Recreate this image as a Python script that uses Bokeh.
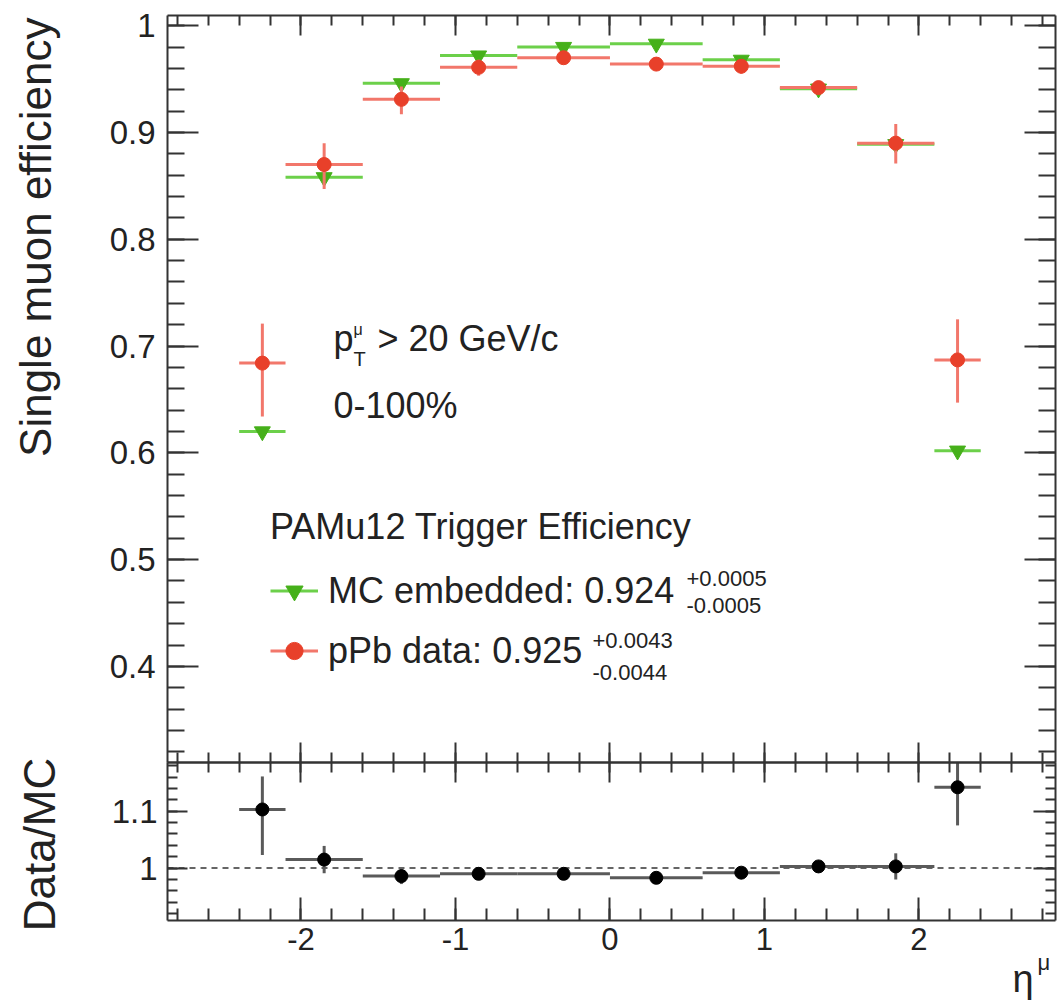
import numpy as np
from math import pi
from bokeh.plotting import figure
from bokeh.models import (Range1d, LinearAxis, FixedTicker, Label, Legend,
                          LegendItem, ColumnDataSource)
from bokeh.embed import file_html
from bokeh.resources import INLINE

# ---------------- data ----------------
eta_edges = [-2.4, -2.1, -1.6, -1.1, -0.6, 0.0, 0.6, 1.1, 1.6, 2.1, 2.4]
eta_centers = [-2.25, -1.85, -1.35, -0.85, -0.3, 0.3, 0.85, 1.35, 1.85, 2.25]

mc_eff = [0.620, 0.858, 0.946, 0.972, 0.980, 0.983, 0.968, 0.941, 0.889, 0.602]
mc_err = [0.003, 0.005, 0.003, 0.002, 0.002, 0.002, 0.002, 0.002, 0.003, 0.004]

data_eff = [0.684, 0.870, 0.931, 0.961, 0.970, 0.964, 0.962, 0.942, 0.890, 0.687]
data_err_lo = [0.050, 0.023, 0.014, 0.008, 0.006, 0.006, 0.007, 0.006, 0.019, 0.040]
data_err_hi = [0.037, 0.020, 0.012, 0.007, 0.005, 0.005, 0.006, 0.005, 0.018, 0.038]

ratio = [1.103, 1.015, 0.986, 0.990, 0.990, 0.983, 0.992, 1.003, 1.003, 1.142]
ratio_err_lo = [0.080, 0.024, 0.014, 0.006, 0.005, 0.005, 0.006, 0.006, 0.023, 0.067]
ratio_err_hi = [0.058, 0.024, 0.012, 0.006, 0.005, 0.005, 0.006, 0.006, 0.023, 0.043]
ratio_ref = 1.0

mc_label = "MC embedded: 0.924"
mc_up, mc_dn = "+0.0005", "-0.0005"
data_label = "pPb data: 0.925"
data_up, data_dn = "+0.0043", "-0.0044"
legend_title = "PAMu12 Trigger Efficiency"

x_major = [-2, -1, 0, 1, 2]
x_tick_labels = ["-2", "-1", "0", "1", "2"]
y1_major = [0.4, 0.5, 0.6, 0.7, 0.8, 0.9, 1.0]
y1_tick_labels = ["0.4", "0.5", "0.6", "0.7", "0.8", "0.9", "1"]
y2_major = [1.0, 1.1]
y2_tick_labels = ["1", "1.1"]

x_minor = [round(v, 2) for v in np.arange(-2.8, 2.81, 0.2)]
y1_minor = [round(v, 2) for v in np.arange(0.32, 1.001, 0.02)]
y2_minor = [round(v, 2) for v in np.arange(0.92, 1.181, 0.02)]

# visible axis limits
X0, X1 = -2.864, 2.884
Y0, Y1 = 0.31, 1.01
R0, R1 = 0.908, 1.1855

# ---------------- layout (canvas pixels) ----------------
CW, CH = 1057, 1002
FL, FR = 167, 1055          # frame left / right
T_TOP, T_BOT = 14.5, 762    # efficiency panel
R_TOP, R_BOT = 762, 920     # ratio panel

sx = (FR - FL) / (X1 - X0)
XS, XE = X0 - FL / sx, X1 + (CW - FR) / sx
sy = (T_BOT - T_TOP) / (Y1 - Y0)
YS_TOP, YS_BOT = Y1 + T_TOP / sy, Y0 - (CH - T_BOT) / sy
sr = (R_BOT - R_TOP) / (R1 - R0)
RS_TOP, RS_BOT = R1 + R_TOP / sr, R0 - (CH - R_BOT) / sr


def px2x(px):
    return XS + px / sx


def py2y(py):
    return YS_TOP - py / sy


# ---------------- style ----------------
FONT = "Liberation Sans"
TXT = "#222222"
AX = "#333333"
RED_MARK = "#e8402a"
RED_BAR = "#f2776b"
GREEN_MARK = "#46b01a"
GREEN_BAR = "#6cd04a"
RATIO_BAR = "#5a5a5a"

p = figure(width=CW, height=CH, x_range=Range1d(XS, XE), y_range=Range1d(YS_BOT, YS_TOP),
           output_backend="svg", toolbar_location=None, tools="",
           x_axis_location=None, y_axis_location=None,
           min_border=0, min_border_left=0, min_border_right=0,
           min_border_top=0, min_border_bottom=0,
           background_fill_color="white", border_fill_color="white")
p.extra_y_ranges = {"ratio": Range1d(RS_BOT, RS_TOP)}
p.grid.visible = False
p.outline_line_color = None

xt = FixedTicker(ticks=x_major, minor_ticks=x_minor)
yt1 = FixedTicker(ticks=y1_major, minor_ticks=y1_minor)
yt2 = FixedTicker(ticks=y2_major, minor_ticks=y2_minor)


def add_axis(side, ticker, loc, bounds, major_in, minor_in, range_name="default",
             label_size=None, standoff=8, labels=None):
    ax = LinearAxis(ticker=ticker, fixed_location=loc, bounds=bounds, y_range_name=range_name)
    ax.major_tick_in = major_in
    ax.major_tick_out = 0
    ax.minor_tick_in = minor_in
    ax.minor_tick_out = 0
    ax.axis_line_color = AX
    ax.axis_line_width = 2
    ax.major_tick_line_color = AX
    ax.major_tick_line_width = 2
    ax.minor_tick_line_color = AX
    ax.minor_tick_line_width = 2
    if label_size is None:
        ax.major_label_text_color = None
        ax.major_label_text_alpha = 0
    else:
        ax.major_label_text_font_size = label_size
        ax.major_label_text_font = FONT
        ax.major_label_text_color = TXT
        ax.major_label_standoff = standoff
        if labels is not None:
            ax.major_label_overrides = labels
    p.add_layout(ax, side)
    return ax


# efficiency panel frame
add_axis("left", yt1, X0, (Y0, Y1), 31, 17, label_size="33px", standoff=12,
         labels={v: s for v, s in zip(y1_major, y1_tick_labels)})
add_axis("right", yt1, X1, (Y0, Y1), 31, 17)
add_axis("above", xt, Y1, (X0, X1), 20, 10)
add_axis("below", xt, Y0, (X0, X1), 20, 10)
# ratio panel frame
add_axis("left", yt2, X0, (R0, R1), 20, 10, range_name="ratio", label_size="33px", standoff=10,
         labels={v: s for v, s in zip(y2_major, y2_tick_labels)})
add_axis("right", yt2, X1, (R0, R1), 22, 10, range_name="ratio")
add_axis("above", xt, R1, (X0, X1), 20, 10, range_name="ratio")
add_axis("below", xt, R0, (X0, X1), 23, 12, range_name="ratio", label_size="31px", standoff=7,
         labels={v: s for v, s in zip(x_major, x_tick_labels)})

# ---------------- sources ----------------
src_mc = ColumnDataSource(dict(
    xc=eta_centers, y=mc_eff, xlo=eta_edges[:-1], xhi=eta_edges[1:],
    ylo=[v - e for v, e in zip(mc_eff, mc_err)],
    yhi=[v + e for v, e in zip(mc_eff, mc_err)]))
src_data = ColumnDataSource(dict(
    xc=eta_centers, y=data_eff, xlo=eta_edges[:-1], xhi=eta_edges[1:],
    ylo=[v - e for v, e in zip(data_eff, data_err_lo)],
    yhi=[v + e for v, e in zip(data_eff, data_err_hi)]))
src_ratio = ColumnDataSource(dict(
    xc=eta_centers, y=ratio, xlo=eta_edges[:-1], xhi=eta_edges[1:],
    ylo=[v - e for v, e in zip(ratio, ratio_err_lo)],
    yhi=[v + e for v, e in zip(ratio, ratio_err_hi)]))

# ---------------- efficiency marks ----------------
mc_h = p.segment(x0="xlo", y0="y", x1="xhi", y1="y", source=src_mc, line_color=GREEN_BAR, line_width=3)
p.segment(x0="xc", y0="ylo", x1="xc", y1="yhi", source=src_mc, line_color=GREEN_BAR, line_width=3)
mc_pt = p.scatter("xc", "y", source=src_mc, marker="inverted_triangle", size=16,
                  fill_color=GREEN_MARK, line_color=GREEN_MARK)
d_h = p.segment(x0="xlo", y0="y", x1="xhi", y1="y", source=src_data, line_color=RED_BAR, line_width=3)
p.segment(x0="xc", y0="ylo", x1="xc", y1="yhi", source=src_data, line_color=RED_BAR, line_width=3)
d_pt = p.scatter("xc", "y", source=src_data, marker="circle", size=14,
                 fill_color=RED_MARK, line_color=RED_MARK)

# ---------------- ratio marks ----------------
p.segment(x0=[X0], y0=[ratio_ref], x1=[X1], y1=[ratio_ref], y_range_name="ratio",
          line_color=AX, line_width=1.5, line_dash="6 5")
p.segment(x0="xlo", y0="y", x1="xhi", y1="y", source=src_ratio, y_range_name="ratio",
          line_color=RATIO_BAR, line_width=3)
p.segment(x0="xc", y0="ylo", x1="xc", y1="yhi", source=src_ratio, y_range_name="ratio",
          line_color=RATIO_BAR, line_width=3)
p.scatter("xc", "y", source=src_ratio, y_range_name="ratio", marker="circle", size=13,
          fill_color="black", line_color="black")

# ---------------- legend ----------------
legend = Legend(items=[LegendItem(label=mc_label, renderers=[mc_h, mc_pt]),
                       LegendItem(label=data_label, renderers=[d_h, d_pt])],
                location=(270, 330), title=legend_title,
                title_text_font=FONT, title_text_font_size="36px", title_text_font_style="normal",
                title_text_color=TXT, title_standoff=21,
                label_text_font=FONT, label_text_font_size="36px", label_text_color=TXT,
                glyph_width=48, glyph_height=43, label_height=43, label_standoff=10,
                spacing=17, padding=0, margin=0, border_line_color=None,
                background_fill_alpha=0)
p.add_layout(legend)


def lab(px, py, text, size, align="left", angle=0.0):
    # (px, py): canvas position of the text's vertical middle
    p.add_layout(Label(x=px2x(px), y=py2y(py), text=text, text_font=FONT, text_font_size=size,
                       text_color=TXT, text_align=align, text_baseline="middle", angle=angle))


# super/subscripts of the legend entries
lab(686, 578, mc_up, "22px")
lab(686, 605, mc_dn, "22px")
lab(592, 640, data_up, "22px")
lab(592, 672, data_dn, "22px")

# kinematic texts
lab(333, 338, "p", "36px")
lab(353, 358, "T", "20px")
lab(353, 329, "\u03bc", "16px")
lab(377, 338, "> 20 GeV/c", "36px")
lab(333, 405, "0-100%", "36px")

# axis titles
lab(35, 17, "Single muon efficiency", "44px", align="right", angle=pi / 2)
lab(39, 844, "Data/MC", "44px", align="center", angle=pi / 2)
lab(1012, 978, "\u03b7", "38px")
lab(1037, 962, "\u03bc", "22px")

open("out.html", "w").write(file_html(p, INLINE))
